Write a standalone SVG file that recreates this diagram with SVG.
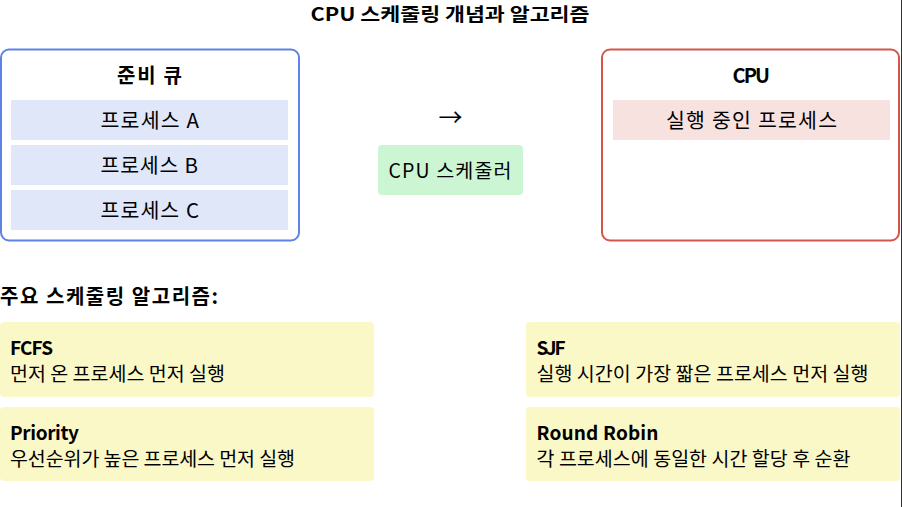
<svg xmlns="http://www.w3.org/2000/svg" width="902" height="507" viewBox="0 0 902 507">
<style>
text{font-family:"Noto Sans CJK KR","Noto Sans",sans-serif;fill:#000}
.b{font-weight:bold}
.h{font-size:20px}
.t{font-size:20.5px}
.n{font-size:19.5px}
.k{font-size:19px}
.q{fill:#dfe7f9}
.card{fill:#fbf8c8}
</style>
<rect width="902" height="507" fill="#fff"/>
<line x1="901.5" y1="0" x2="901.5" y2="507" stroke="#333" stroke-width="1"/>
<text class="b" x="310.5" y="21" font-size="18" textLength="279" lengthAdjust="spacingAndGlyphs">CPU 스케줄링 개념과 알고리즘</text>
<g id="ready-queue">
<rect x="1" y="49.5" width="298" height="191" rx="8" fill="#fff" stroke="#5f82e6" stroke-width="2"/>
<text class="b h" x="117" y="83" textLength="65" lengthAdjust="spacing">준비 큐</text>
<rect class="q" x="11" y="100" width="277" height="40"/>
<text class="t" x="100.5" y="128" textLength="98.5" lengthAdjust="spacing">프로세스 A</text>
<rect class="q" x="11" y="145" width="277" height="40"/>
<text class="t" x="100.5" y="173" textLength="97.5" lengthAdjust="spacing">프로세스 B</text>
<rect class="q" x="11" y="190" width="277" height="40"/>
<text class="t" x="100.5" y="218" textLength="98.5" lengthAdjust="spacing">프로세스 C</text>
</g>
<g id="connectors">
<text x="450.5" y="126" font-size="24" text-anchor="middle">→</text>
</g>
<g id="scheduler">
<rect x="378" y="145" width="145" height="50" rx="4" fill="#ccf5d3"/>
<text class="n" x="388.5" y="178" textLength="123" lengthAdjust="spacing">CPU 스케줄러</text>
</g>
<g id="cpu">
<rect x="602" y="49.5" width="297" height="191" rx="8" fill="#fff" stroke="#d2564b" stroke-width="2"/>
<text class="b h" x="732.5" y="83" textLength="37.5" lengthAdjust="spacing">CPU</text>
<rect x="613" y="100" width="277" height="40" fill="#f8e2e0"/>
<text class="t" x="666" y="128" textLength="171" lengthAdjust="spacing">실행 중인 프로세스</text>
</g>
<text class="b h" x="0" y="304" textLength="218" lengthAdjust="spacing">주요 스케줄링 알고리즘:</text>
<g id="fcfs">
<rect class="card" x="0" y="322" width="374" height="75" rx="4"/>
<text class="b k" x="10" y="355" textLength="43" lengthAdjust="spacing">FCFS</text>
<text class="n" x="10" y="381" textLength="215" lengthAdjust="spacing">먼저 온 프로세스 먼저 실행</text>
</g>
<g id="priority">
<rect class="card" x="0" y="407" width="374" height="74" rx="4"/>
<text class="b k" x="10" y="439.5" textLength="69" lengthAdjust="spacing">Priority</text>
<text class="n" x="10" y="465.5" textLength="285" lengthAdjust="spacing">우선순위가 높은 프로세스 먼저 실행</text>
</g>
<g id="sjf">
<rect class="card" x="526" y="322" width="374" height="75" rx="4"/>
<text class="b k" x="536.5" y="355" textLength="29" lengthAdjust="spacing">SJF</text>
<text class="n" x="536.5" y="381" textLength="332" lengthAdjust="spacing">실행 시간이 가장 짧은 프로세스 먼저 실행</text>
</g>
<g id="rr">
<rect class="card" x="526" y="407" width="374" height="74" rx="4"/>
<text class="b k" x="536.5" y="439.5" textLength="122" lengthAdjust="spacing">Round Robin</text>
<text class="n" x="536.5" y="465.5" textLength="314" lengthAdjust="spacing">각 프로세스에 동일한 시간 할당 후 순환</text>
</g>
</svg>
